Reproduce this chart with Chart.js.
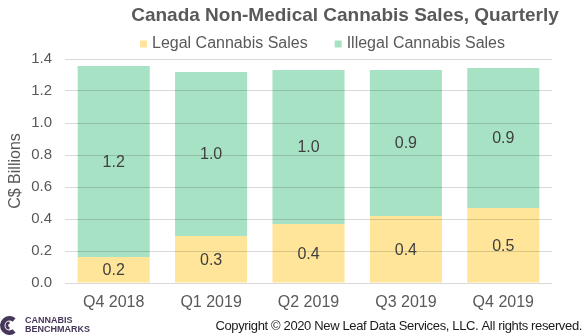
<!DOCTYPE html>
<html>
<head>
<meta charset="utf-8">
<script src="https://cdn.jsdelivr.net/npm/chart.js@4/dist/chart.umd.min.js"></script>
<style>
  html, body { margin: 0; padding: 0; background: #ffffff; }
  #wrap { width: 588px; height: 336px; }
</style>
</head>
<body>
<div id="wrap"><canvas id="chart" width="588" height="336"></canvas></div>
<script>
// Quarterly non-medical cannabis sales in Canada, C$ billions
const quarters = ['Q4 2018', 'Q1 2019', 'Q2 2019', 'Q3 2019', 'Q4 2019'];
const legalSales = [0.163, 0.294, 0.369, 0.419, 0.469];
const illegalSales = [1.193, 1.025, 0.962, 0.912, 0.875];
const seriesNames = ['Legal Cannabis Sales', 'Illegal Cannabis Sales'];
const yMin = 0, yMax = 1.4, yStep = 0.2;
const chartTitle = 'Canada Non-Medical Cannabis Sales, Quarterly';

const FONT = "'Liberation Sans', Arial, sans-serif";
const TEXT = '#595959';
const LEGAL = '#FFE599';
const ILLEGAL = '#A8E2C4';

// Value labels centred inside each stacked segment
const segmentLabels = {
  id: 'segmentLabels',
  afterDraw(chart) {
    const ctx = chart.ctx;
    ctx.save();
    ctx.font = '16px ' + FONT;
    ctx.fillStyle = '#404040';
    ctx.textAlign = 'center';
    ctx.textBaseline = 'middle';
    chart.data.datasets.forEach((ds, i) => {
      chart.getDatasetMeta(i).data.forEach((bar, j) => {
        const p = bar.getProps(['x', 'y', 'base'], true);
        ctx.fillText(ds.data[j].toFixed(1), p.x, (p.y + p.base) / 2 + 1);
      });
    });
    ctx.restore();
  }
};

// Title plus legend row: small square swatch followed by the series name
const header = {
  id: 'header',
  afterDraw(chart) {
    const ctx = chart.ctx;
    ctx.save();
    ctx.fillStyle = TEXT;
    ctx.font = 'bold 19px ' + FONT;
    ctx.textAlign = 'center';
    ctx.textBaseline = 'middle';
    ctx.fillText(chartTitle, 345, 16);

    ctx.font = '16px ' + FONT;
    ctx.textAlign = 'left';
    let x = 140;
    const y = 44;
    chart.data.datasets.forEach(ds => {
      ctx.fillStyle = ds.backgroundColor;
      ctx.fillRect(x, y - 3.5, 7, 7);
      x += 12;
      ctx.fillStyle = TEXT;
      ctx.fillText(ds.label, x, y);
      x += ctx.measureText(ds.label).width + 27;
    });
    ctx.restore();
  }
};

// Footer: brand mark bottom-left, copyright line bottom-right
const footer = {
  id: 'footer',
  afterDraw(chart) {
    const ctx = chart.ctx;
    ctx.save();
    const brand = '#46375a';
    ctx.strokeStyle = brand;
    ctx.lineCap = 'butt';
    ctx.lineWidth = 4.5;
    ctx.beginPath();
    ctx.arc(9.5, 325.5, 7.2, 0.28 * Math.PI, 1.72 * Math.PI);
    ctx.stroke();
    ctx.lineWidth = 2.6;
    ctx.beginPath();
    ctx.arc(9.5, 325.5, 2.7, 0.5 * Math.PI, 1.5 * Math.PI);
    ctx.stroke();
    ctx.fillStyle = brand;
    ctx.font = 'bold 9px ' + FONT;
    ctx.textBaseline = 'middle';
    ctx.textAlign = 'left';
    ctx.fillText('CANNABIS', 25, 320.5);
    ctx.fillText('BENCHMARKS', 25, 329.5);

    ctx.fillStyle = '#1a1a1a';
    ctx.font = '13px ' + FONT;
    ctx.letterSpacing = '-0.36px';
    ctx.textAlign = 'right';
    ctx.fillText('Copyright \u00A9 2020 New Leaf Data Services, LLC. All rights reserved.', 582, 326);
    ctx.restore();
  }
};

new Chart(document.getElementById('chart'), {
  type: 'bar',
  data: {
    labels: quarters,
    datasets: [
      { label: seriesNames[0], data: legalSales, backgroundColor: LEGAL, borderWidth: 0 },
      { label: seriesNames[1], data: illegalSales, backgroundColor: ILLEGAL, borderWidth: 0 }
    ]
  },
  options: {
    responsive: false,
    devicePixelRatio: 1,
    animation: false,
    layout: { padding: { top: 59, right: 36, bottom: 0, left: 0 } },
    datasets: { bar: { categoryPercentage: 1.0, barPercentage: 0.74 } },
    plugins: {
      legend: { display: false },
      tooltip: { enabled: false },
      title: { display: false }
    },
    scales: {
      x: {
        stacked: true,
        grid: { display: false, drawTicks: false },
        border: { display: false },
        ticks: { color: TEXT, font: { family: FONT, size: 16 }, padding: 10, maxRotation: 0 },
        afterFit(scale) { scale.height = 53; }
      },
      y: {
        stacked: true,
        min: yMin,
        max: yMax,
        border: { display: false },
        grid: { color: 'rgba(0,0,0,0.15)', drawTicks: false, z: 1 },
        ticks: {
          stepSize: yStep,
          color: TEXT,
          font: { family: FONT, size: 15 },
          padding: 13,
          callback: v => Number(v).toFixed(1)
        },
        title: {
          display: true,
          text: 'C$ Billions',
          color: TEXT,
          font: { family: FONT, size: 16 },
          padding: { top: 6, bottom: 0 }
        },
        afterFit(scale) { scale.width = 65; }
      }
    }
  },
  plugins: [segmentLabels, header, footer]
});
</script>
</body>
</html>
